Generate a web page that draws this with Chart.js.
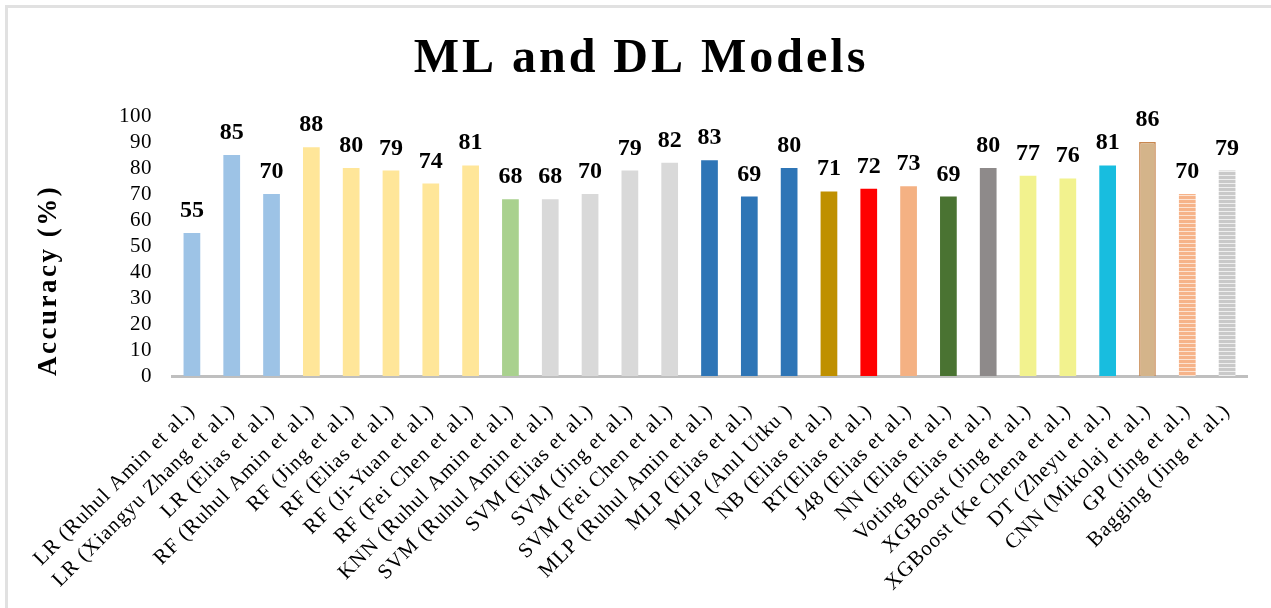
<!DOCTYPE html>
<html>
<head>
<meta charset="utf-8">
<script src="https://cdn.jsdelivr.net/npm/chart.js@4.4.0/dist/chart.umd.min.js"></script>
<style>
  html, body { margin: 0; padding: 0; background: #fff; overflow: hidden; }
  #wrap { position: relative; width: 1271px; height: 608px; }
  #marco { position: absolute; left: 5px; top: 5px; width: 1300px; height: 650px; border: 3px solid #e1e1e1; }
  canvas { position: absolute; left: 0; top: 0; }
</style>
</head>
<body>
<div id="wrap">
  <div id="marco"></div>
  <canvas id="grafico" width="1271" height="608"></canvas>
</div>
<script>
const modelos = [
  'LR (Ruhul Amin et al.)', 'LR (Xiangyu Zhang et al.)', 'LR (Elias et al.)',
  'RF (Ruhul Amin et al.)', 'RF (Jing et al.)', 'RF (Elias et al.)',
  'RF (Ji-Yuan et al.)', 'RF (Fei Chen et al.)', 'KNN (Ruhul Amin et al.)',
  'SVM (Ruhul Amin et al.)', 'SVM (Elias et al.)', 'SVM (Jing et al.)',
  'SVM (Fei Chen et al.)', 'MLP (Ruhul Amin et al.)', 'MLP (Elias et al.)',
  'MLP (Anıl Utku )', 'NB (Elias et al.)', 'RT(Elias et al.)',
  'J48 (Elias et al.)', 'NN (Elias et al.)', 'Voting (Elias et al.)',
  'XGBoost (Jing et al.)', 'XGBoost (Ke Chena et al.)', 'DT (Zheyu et al.)',
  'CNN (Mikolaj et al.)', 'GP (Jing et al.)', 'Bagging (Jing et al.)'
];

// altura de cada barra
const precision = [55, 85, 70, 88, 80, 79, 74, 81, 68, 68, 70, 79, 82, 83, 69, 80, 71, 72, 73, 69, 80, 77, 76, 81, 90, 70, 79];

// numeros escritos encima de cada barra
const etiquetas = ['55', '85', '70', '88', '80', '79', '74', '81', '68', '68', '70', '79', '82', '83', '69', '80', '71', '72', '73', '69', '80', '77', '76', '81', '86', '70', '79'];

const ticksY = [0, 10, 20, 30, 40, 50, 60, 70, 80, 90, 100];

function rayas(fondo, linea) {
  const c = document.createElement('canvas');
  c.width = 4; c.height = 4;
  const g = c.getContext('2d');
  g.fillStyle = fondo; g.fillRect(0, 0, 4, 4);
  g.fillStyle = linea; g.fillRect(0, 3, 4, 1);
  return g.createPattern(c, 'repeat');
}

const colores = [
  '#9DC3E6', '#9DC3E6', '#9DC3E6',
  '#FFE699', '#FFE699', '#FFE699', '#FFE699', '#FFE699',
  '#A9D18E',
  '#D9D9D9', '#D9D9D9', '#D9D9D9', '#D9D9D9',
  '#2E75B6', '#2E75B6', '#2E75B6',
  '#BF9000', '#FF0000', '#F4B183', '#4A7332', '#8E8A8A',
  '#F2F28E', '#F2F28E', '#18BDDF',
  '#D4B48A', rayas('#F6B389', '#FCE3D2'), rayas('#C9C9C9', '#EFEFEF')
];
const bordes = colores.map((c, i) => i === 24 ? '#C8874F' : 'rgba(0,0,0,0)');
const grosores = colores.map((c, i) => i === 24 ? 1.5 : 0);

const fuente = '"Liberation Serif", "Times New Roman", serif';
const espaciado = { x: '1px', y: '0.5px' };

const rotulos = {
  id: 'rotulos',
  beforeDraw(chart) {
    // espaciado de letras distinto para cada eje
    ['x', 'y'].forEach(id => {
      const s = chart.scales[id];
      if (s._espaciado) return;
      s._espaciado = true;
      const etiquetasEje = s.drawLabels.bind(s);
      const tituloEje = s.drawTitle.bind(s);
      s.drawLabels = area => { s.ctx.letterSpacing = espaciado[id]; etiquetasEje(area); s.ctx.letterSpacing = '0px'; };
      s.drawTitle = () => { s.ctx.letterSpacing = '2.5px'; tituloEje(); s.ctx.letterSpacing = '0px'; };
    });
  },
  afterDatasetsDraw(chart) {
    const ctx = chart.ctx;
    const meta = chart.getDatasetMeta(0);
    ctx.save();
    ctx.letterSpacing = '0px';
    ctx.font = 'bold 24px ' + fuente;
    ctx.fillStyle = '#000';
    ctx.textAlign = 'center';
    ctx.textBaseline = 'alphabetic';
    meta.data.forEach((barra, i) => {
      ctx.fillText(etiquetas[i], barra.x, barra.y - 16);
    });
    ctx.restore();
  },
  afterDraw(chart) {
    const ctx = chart.ctx;
    ctx.save();
    ctx.letterSpacing = '3px';
    ctx.font = 'bold 48px ' + fuente;
    ctx.fillStyle = '#000';
    ctx.textAlign = 'center';
    ctx.textBaseline = 'alphabetic';
    ctx.fillText('ML and DL Models', 641, 72);
    ctx.restore();
  }
};

const ctx = document.getElementById('grafico').getContext('2d');
new Chart(ctx, {
  type: 'bar',
  data: {
    labels: modelos,
    datasets: [{
      label: 'Accuracy',
      data: precision,
      backgroundColor: colores,
      borderColor: bordes,
      borderWidth: grosores,
      barPercentage: 0.42,
      categoryPercentage: 1
    }]
  },
  options: {
    responsive: false,
    animation: false,
    devicePixelRatio: 1,
    layout: { padding: { left: 29, top: 116, right: 24, bottom: 0 } },
    plugins: {
      legend: { display: false },
      title: { display: false },
      tooltip: { enabled: false }
    },
    scales: {
      x: {
        grid: { display: false, drawTicks: false },
        border: { display: true, color: '#BFBFBF', width: 3 },
        ticks: {
          autoSkip: false,
          minRotation: 45,
          maxRotation: 45,
          padding: 23,
          color: '#000',
          font: { family: fuente, size: 21 }
        },
        afterFit(scale) { scale.height = 232; }
      },
      y: {
        min: 0,
        max: 100,
        afterBuildTicks(scale) { scale.ticks = ticksY.map(v => ({ value: v })); },
        grid: { display: false, drawTicks: false },
        border: { display: false },
        ticks: {
          autoSkip: false,
          padding: 20,
          color: '#000',
          font: { family: fuente, size: 21 }
        },
        title: {
          display: true,
          text: 'Accuracy (%)',
          align: 'start',
          color: '#000',
          font: { family: fuente, size: 27, weight: 'bold' }
        },
        afterFit(scale) { scale.width = 143; }
      }
    }
  },
  plugins: [rotulos]
});
</script>
</body>
</html>
